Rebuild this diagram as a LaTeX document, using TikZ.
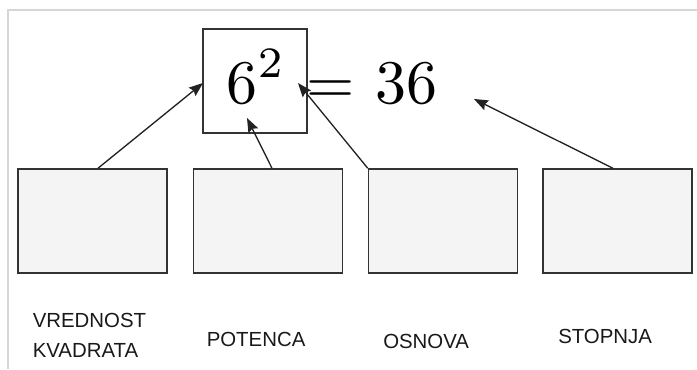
\documentclass[tikz,border=0pt]{standalone}
\usepackage{fontspec}
\setmainfont{Liberation Sans}
\usetikzlibrary{arrows.meta}
\DeclareFontFamily{OT1}{cmrx}{}
\DeclareFontShape{OT1}{cmrx}{m}{n}{<-> cmr10}{}
\DeclareFontFamily{OT1}{cmrs}{}
\DeclareFontShape{OT1}{cmrs}{m}{n}{<-> cmr7}{}
\newcommand\bigcm{\fontsize{46.5}{50}\usefont{OT1}{cmrx}{m}{n}}
\newcommand\supcm{\fontsize{32.5}{34}\usefont{OT1}{cmrs}{m}{n}}
\definecolor{frame}{HTML}{D6D6D6}
\definecolor{boxline}{HTML}{333333}
\definecolor{boxfill}{HTML}{F4F4F4}
\definecolor{arrcol}{HTML}{222222}
\tikzset{
  emptybox/.style={draw=boxline, fill=boxfill, line width=1.1pt, minimum width=111.75pt, minimum height=78pt, inner sep=0pt},
  sqbox/.style={draw=boxline, fill=white, line width=1.1pt, minimum width=78pt, minimum height=78pt, inner sep=0pt},
  arr/.style={draw=arrcol, line width=1pt, -{Stealth[length=10.5pt,width=8pt,inset=1.5pt]}},
  lbl/.style={anchor=base west, inner sep=0pt, font=\fontsize{15.3}{22.5}\selectfont, text=black!90},
  big/.style={anchor=base west, inner sep=0pt, font=\bigcm}
}
\begin{document}
\begin{tikzpicture}[x=0.75pt, y=-0.75pt]
\useasboundingbox (0,0) rectangle (697,369);
% frame
\draw[frame, line width=1.1pt] (8,369) -- (8,10) -- (697,10);
% top square and formula
\node[sqbox] (sq) at (255,81) {};
\node[big] (pow) at (226.5,103) {6\raisebox{19.5pt}{\supcm 2}};
\node[big] (eq) at (306.6,103) {=};
\node[big] (val) at (375.4,103) {36};
% bottom boxes
\node[emptybox] (b1) at (92.5,221) {};
\node[emptybox] (b2) at (268,221) {};
\node[emptybox] (b3) at (443,221) {};
\node[emptybox] (b4) at (617.5,221) {};
% arrow targets
\coordinate (t1) at (203,83);
\coordinate (t2) at (247,118);
\coordinate (t3) at (298,83);
\coordinate (t4) at (474,99);
\draw[arr] ([xshift=4.1pt]b1.north) -- (t1);
\draw[arr] ([xshift=3pt]b2.north) -- (t2);
\draw[arr] (b3.north west) -- (t3);
\draw[arr] ([xshift=-3.4pt]b4.north) -- (t4);
% labels
\node[lbl, align=left] (l1) at (32.5,357.3) {VREDNOST\\KVADRATA};
\node[lbl] (l2) at (206.5,346.7) {POTENCA};
\node[lbl] (l3) at (383,348.3) {OSNOVA};
\node[lbl] (l4) at (558,343.3) {STOPNJA};
\end{tikzpicture}
\end{document}
